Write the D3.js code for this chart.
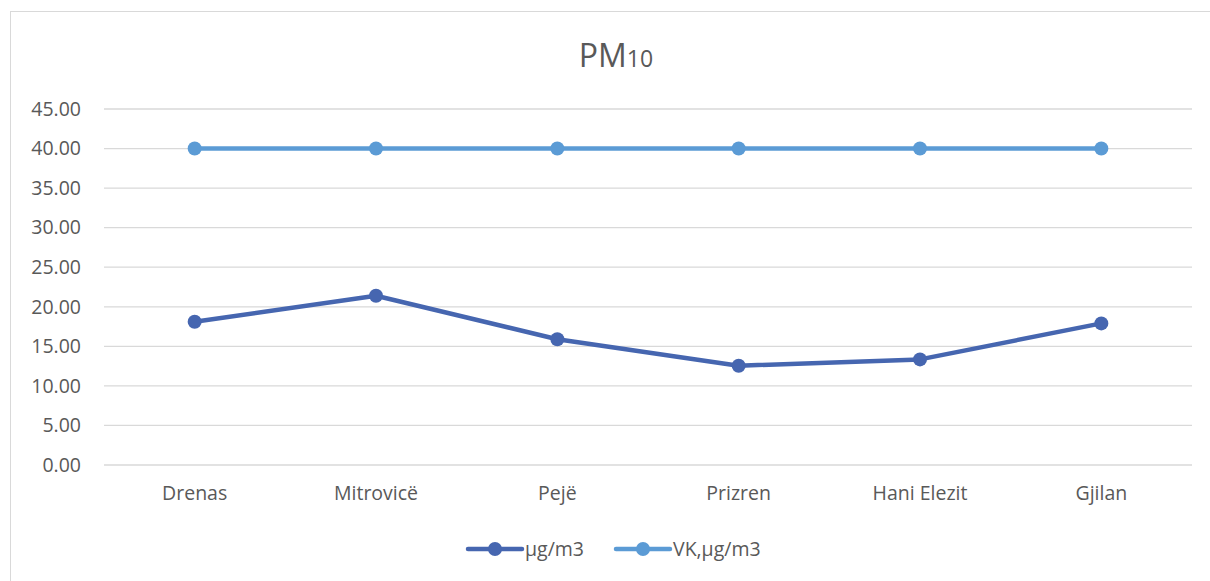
<!DOCTYPE html>
<html>
<head>
<meta charset="utf-8">
<script src="https://cdn.jsdelivr.net/npm/d3@7"></script>
<style>
  body { margin: 0; background: #fff; }
  text { font-family: "Open Sans", "Noto Sans", sans-serif; fill: #595959; }
</style>
</head>
<body>
<div id="chart"></div>
<script>
const categories = ['Drenas', 'Mitrovicë', 'Pejë', 'Prizren', 'Hani Elezit', 'Gjilan']
const measured = [18.1, 21.4, 15.9, 12.55, 13.35, 17.9]
const limit = [40, 40, 40, 40, 40, 40]
const yTicks = [0, 5, 10, 15, 20, 25, 30, 35, 40, 45]

const series = [
  { name: 'µg/m3', values: measured, color: '#4666b0' },
  { name: 'VK,µg/m3', values: limit, color: '#5b9bd5' }
]

const dms = { width: 1210, height: 581, left: 104, right: 1192, top: 109, bottom: 465 }

const svg = d3.select('#chart').append('svg')
    .attr('width', dms.width)
    .attr('height', dms.height)

svg.append('rect')
    .attr('x', 10.5).attr('y', 11.5)
    .attr('width', 1220).attr('height', 600)
    .attr('fill', 'none').attr('stroke', '#d9d9d9')

const x = d3.scaleBand()
    .domain(categories)
    .range([dms.left, dms.right])

const y = d3.scaleLinear()
    .domain([0, 45])
    .range([dms.bottom, dms.top])

// title with smaller "10"
const title = svg.append('text')
    .attr('x', 616).attr('y', 67)
    .attr('text-anchor', 'middle')
    .style('font-size', '32px')
title.append('tspan').text('PM')
title.append('tspan').style('font-size', '23px').text('10')

// gridlines
svg.append('g').selectAll('line')
    .data(yTicks)
    .join('line')
    .attr('x1', dms.left).attr('x2', dms.right)
    .attr('y1', d => y(d)).attr('y2', d => y(d))
    .attr('stroke', '#d9d9d9').attr('stroke-width', 1.3)

const yAxis = svg.append('g')
    .attr('transform', `translate(${dms.left},0)`)
    .call(d3.axisLeft(y).tickValues(yTicks).tickFormat(d3.format('.2f')).tickSize(0).tickPadding(23))
yAxis.select('.domain').remove()
yAxis.selectAll('text').style('font-size', '19.5px').attr('fill', '#595959')

const xAxis = svg.append('g')
    .attr('transform', `translate(0,${dms.bottom})`)
    .call(d3.axisBottom(x).tickSize(0).tickPadding(21))
xAxis.select('.domain').remove()
xAxis.selectAll('text').style('font-size', '19.5px').attr('fill', '#595959')

const line = d3.line()
    .x((d, i) => x(categories[i]) + x.bandwidth() / 2)
    .y(d => y(d))

series.forEach(s => {
  const g = svg.append('g')
  g.append('path')
      .attr('d', line(s.values))
      .attr('fill', 'none')
      .attr('stroke', s.color)
      .attr('stroke-width', 4.5)
      .attr('stroke-linejoin', 'round')
  g.selectAll('circle')
      .data(s.values)
      .join('circle')
      .attr('cx', (d, i) => x(categories[i]) + x.bandwidth() / 2)
      .attr('cy', d => y(d))
      .attr('r', 7)
      .attr('fill', s.color)
})

// legend
const legendX = [468, 616]
const legend = svg.append('g')
series.forEach((s, i) => {
  const lg = legend.append('g').attr('transform', `translate(${legendX[i]},549)`)
  lg.append('line')
      .attr('x1', 0).attr('x2', 54)
      .attr('stroke', s.color).attr('stroke-width', 4.5)
      .attr('stroke-linecap', 'round')
  lg.append('circle').attr('cx', 27).attr('r', 7).attr('fill', s.color)
  lg.append('text')
      .attr('x', 57).attr('y', 6.5)
      .style('font-size', '19.5px')
      .text(s.name)
})
</script>
</body>
</html>
